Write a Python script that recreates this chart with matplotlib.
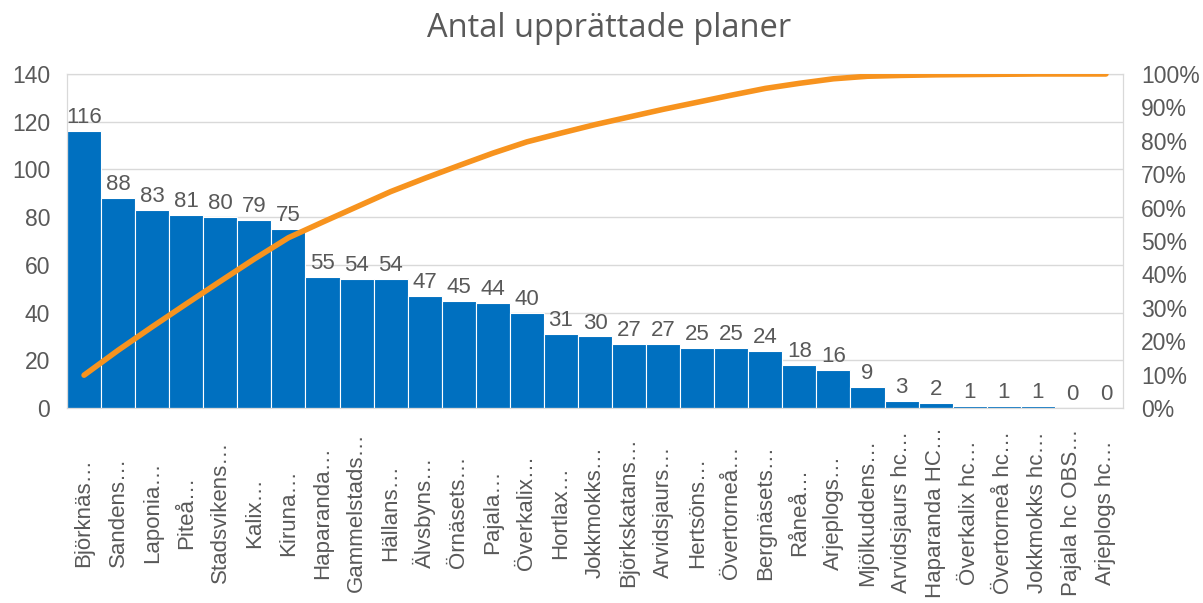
import numpy as np
import matplotlib.pyplot as plt
from matplotlib.ticker import PercentFormatter

plt.rcParams['font.family'] = ['Liberation Sans', 'DejaVu Sans']

names = ['Björknäs…', 'Sandens…', 'Laponia…', 'Piteå…', 'Stadsvikens…', 'Kalix…',
         'Kiruna…', 'Haparanda…', 'Gammelstads…', 'Hällans…', 'Älvsbyns…',
         'Örnäsets…', 'Pajala…', 'Överkalix…', 'Hortlax…', 'Jokkmokks…',
         'Björkskatans…', 'Arvidsjaurs…', 'Hertsöns…', 'Övertorneå…', 'Bergnäsets…',
         'Råneå…', 'Arjeplogs…', 'Mjölkuddens…', 'Arvidsjaurs hc…', 'Haparanda HC…',
         'Överkalix hc…', 'Övertorneå hc…', 'Jokkmokks hc…', 'Pajala hc OBS…',
         'Arjeplogs hc…']
counts = [116, 88, 83, 81, 80, 79, 75, 55, 54, 54, 47, 45, 44, 40, 31, 30, 27, 27,
          25, 25, 24, 18, 16, 9, 3, 2, 1, 1, 1, 0, 0]

grey = '#595959'
cum = np.cumsum(counts) / np.sum(counts)
x = np.arange(len(counts))

fig = plt.figure(figsize=(12.03, 6.03), dpi=100)
ax = fig.add_axes([0.0557, 0.3234, 0.8778, 0.5539])

ax.bar(x, counts, width=1.0, color='#0070C0', edgecolor='white', linewidth=0.8, zorder=2)
for xi, v in zip(x, counts):
    ax.text(xi, v + 1.2, str(v), ha='center', va='bottom', fontsize=16, color=grey, zorder=4)

ax.set_xlim(-0.5, len(counts) - 0.5)
ax.set_ylim(0, 140)
ax.set_yticks(range(0, 141, 20))
ax.yaxis.grid(True, color='#D9D9D9', linewidth=1, zorder=0)
ax.set_axisbelow(True)
ax.set_xticks(x)
ax.set_xticklabels(names, rotation=90, fontsize=16, color=grey, va='center')
ax.tick_params(axis='y', labelsize=16.5, colors=grey, length=0, pad=12)
# labels are centred in the category-label band, as Excel does
ax.tick_params(axis='x', length=0, pad=75)
for s in ax.spines.values():
    s.set_color('#D9D9D9')

ax2 = ax.twinx()
ax2.plot(x, cum, color='#F7931E', linewidth=4, solid_capstyle='round', zorder=5)
ax2.set_ylim(0, 1.0)
ax2.set_yticks(np.arange(0, 1.01, 0.1))
ax2.yaxis.set_major_formatter(PercentFormatter(1.0, decimals=0))
ax2.tick_params(axis='y', labelsize=16.5, colors=grey, length=0, pad=13)
for s in ax2.spines.values():
    s.set_color('#D9D9D9')

fig.text(0.506, 0.952, 'Antal upprättade planer', ha='center', va='center',
         fontsize=23.5, color=grey, family=['Open Sans', 'DejaVu Sans'])

fig.savefig('out.png', dpi=100)
